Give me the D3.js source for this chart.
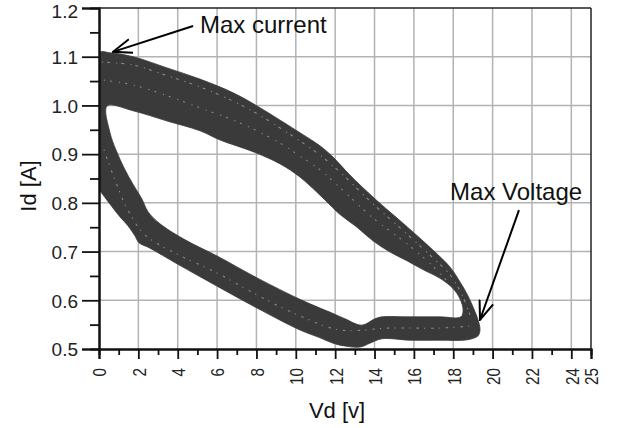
<!DOCTYPE html>
<html><head><meta charset="utf-8">
<script src="https://cdn.jsdelivr.net/npm/d3@7"></script>
<style>
html,body{margin:0;padding:0;background:#fff;}
svg{display:block;font-family:"Liberation Sans",Arial,sans-serif;}
</style></head>
<body>
<svg id="c" width="618" height="428"></svg>
<script>
// ---- data ----
// outer boundary of the hysteresis band (Vd [V], Id [A])
const outerVd = [0.00,0.56,1.73,3.46,5.13,6.81,8.03,9.35,10.21,11.23,11.89,12.75,13.92,14.79,15.65,16.97,17.84,18.34,18.75,19.05,19.26,19.36,19.26,18.95,18.50,17.33,15.80,14.38,13.77,13.26,12.50,11.89,11.23,10.21,8.03,6.00,3.96,2.59,2.03,1.83,1.47,1.07,0.66,0.25,0.00];
const outerId = [1.108,1.108,1.100,1.077,1.054,1.026,0.999,0.966,0.944,0.917,0.894,0.857,0.812,0.781,0.751,0.703,0.668,0.638,0.609,0.582,0.560,0.539,0.527,0.521,0.518,0.518,0.518,0.521,0.512,0.504,0.506,0.512,0.523,0.539,0.584,0.629,0.675,0.707,0.718,0.732,0.753,0.771,0.792,0.814,0.831];
// inner boundary (hole of the loop)
const innerVd = [0.41,1.73,3.46,5.13,6.15,7.83,9.20,10.21,11.48,12.25,13.11,13.92,14.79,15.65,16.46,17.33,17.99,18.34,18.50,18.39,17.33,15.80,14.38,14.02,13.36,12.50,11.89,11.23,10.21,8.03,6.00,4.47,3.10,2.49,2.18,1.73,1.27,0.86,0.56];
const innerId = [0.999,0.989,0.968,0.948,0.929,0.905,0.880,0.853,0.806,0.776,0.750,0.722,0.699,0.681,0.663,0.645,0.624,0.603,0.580,0.566,0.566,0.566,0.566,0.562,0.549,0.562,0.573,0.584,0.602,0.646,0.691,0.722,0.757,0.782,0.808,0.838,0.872,0.909,0.944];
// gaps between individual cycles visible inside the band (light speckle streaks)
const streakAVd = [0.15,1.73,3.46,5.13,6.81,8.03,9.35,10.21,11.23,12.25,13.92,15.65,16.97,17.84,18.45,18.85];
const streakAId = [1.089,1.083,1.061,1.038,1.009,0.983,0.950,0.927,0.898,0.863,0.798,0.736,0.687,0.652,0.611,0.570];
const streakBVd = [0.25,1.73,3.46,5.13,6.81,8.03,9.35,10.21,11.23,12.25,13.92,15.65,16.97,17.84];
const streakBId = [1.052,1.042,1.020,0.995,0.970,0.948,0.919,0.896,0.868,0.831,0.769,0.716,0.670,0.633];
const streakCVd = [0.25,0.81,1.47,2.34,3.96,6.00,8.03,10.21,12.25,14.79,17.33,18.85];
const streakCId = [0.909,0.847,0.785,0.734,0.695,0.656,0.611,0.568,0.539,0.543,0.543,0.547];

const xMajor = [0,2,4,6,8,10,12,14,16,18,20,22,24,25];
const xMinor = [1,3,5,7,9,11,13,15,17,19,21,23];
const xGrid  = [2,4,6,8,10,12,14,16,18,20,22,24];
const yMajor = [0.5,0.6,0.7,0.8,0.9,1.0,1.1,1.2];
const yMinor = [0.55,0.65,0.75,0.85,0.95,1.05,1.15];
const yGrid  = [0.6,0.7,0.8,0.9,1.0,1.1];

const annotations = [
  {text:"Max current", tx:5.13, ty:1.149, from:[4.78,1.163], to:[0.71,1.110]},
  {text:"Max Voltage", tx:17.84, ty:0.806, from:[21.34,0.785], to:[19.36,0.560]}
];

// ---- drawing ----
const svg = d3.select("#c");
const L=99, R=591, T=8, B=349;
const x = d3.scaleLinear().domain([0,25]).range([L,R]);
const y = d3.scaleLinear().domain([0.5,1.2]).range([B,T]);

const defs = svg.append("defs");
defs.append("clipPath").attr("id","plot")
  .append("rect").attr("x",L).attr("y",T).attr("width",R-L).attr("height",B-T);

// grid
const grid = svg.append("g").attr("class","grid");
grid.selectAll("line.gx").data(xGrid).enter().append("line").attr("class","gx")
  .attr("x1",d=>x(d)).attr("x2",d=>x(d)).attr("y1",T).attr("y2",B)
  .style("stroke","#b3b3b3").style("stroke-width","1.5px");
grid.selectAll("line.gy").data(yGrid).enter().append("line").attr("class","gy")
  .attr("y1",d=>y(d)).attr("y2",d=>y(d)).attr("x1",L).attr("x2",R)
  .style("stroke","#b3b3b3").style("stroke-width","1.5px");

// band
const outer = outerVd.map((v,i)=>[v,outerId[i]]);
const inner = innerVd.map((v,i)=>[v,innerId[i]]);
const bandLine = d3.line().x(d=>x(d[0])).y(d=>y(d[1])).curve(d3.curveCatmullRomClosed.alpha(0.5));
const plotG = svg.append("g").attr("clip-path","url(#plot)");
plotG.append("path")
  .attr("d", bandLine(outer)+bandLine(inner))
  .attr("fill","#3a3a3a").attr("fill-rule","evenodd")
  .attr("stroke","#3a3a3a").attr("stroke-width",0.8);

// streaks (gaps between cycles)
const openLine = d3.line().x(d=>x(d[0])).y(d=>y(d[1])).curve(d3.curveCatmullRom.alpha(0.5));
[[streakAVd,streakAId,"1.2,4,3,6"],[streakBVd,streakBId,"1.2,5,2,7"],[streakCVd,streakCId,"1.2,6,2.5,5"]].forEach(([vs,is,dash])=>{
  plotG.append("path").attr("d",openLine(vs.map((v,k)=>[v,is[k]])))
    .attr("fill","none").attr("stroke","#fff").attr("stroke-opacity",0.4)
    .attr("stroke-width",1.1).attr("stroke-dasharray",dash);
});

// frame
svg.append("line").attr("x1",L).attr("x2",R).attr("y1",T).attr("y2",T).attr("stroke","#222").attr("stroke-width",1.5);
svg.append("line").attr("x1",R).attr("x2",R).attr("y1",T).attr("y2",B).attr("stroke","#222").attr("stroke-width",1.5);

// axes
const yAx = svg.append("g").attr("transform",`translate(${L},0)`)
  .call(d3.axisLeft(y).tickValues(yMajor).tickSize(17).tickPadding(4).tickFormat(d3.format(".1f")));
const yAxMin = svg.append("g").attr("transform",`translate(${L},0)`)
  .call(d3.axisLeft(y).tickValues(yMinor).tickSize(9).tickFormat(""));
const xAx = svg.append("g").attr("transform",`translate(0,${B})`)
  .call(d3.axisBottom(x).tickValues(xMajor).tickSize(10).tickFormat(d3.format("d")));
const xAxMin = svg.append("g").attr("transform",`translate(0,${B})`)
  .call(d3.axisBottom(x).tickValues(xMinor).tickSize(6).tickFormat(""));
[yAx,yAxMin,xAx,xAxMin].forEach(a=>{
  a.select(".domain").attr("stroke","#111").attr("stroke-width",2);
  a.selectAll(".tick line").attr("stroke","#111").attr("stroke-width",1.8);
});
yAx.selectAll("text").attr("font-size",19).attr("fill","#222")
  .attr("font-family","'Liberation Sans',Arial,sans-serif")
  .attr("dy",d=>d===1.2?"0.52em":"0.36em");
const sx = 0.8;
xAx.selectAll("text").attr("font-size",19).attr("fill","#222")
  .attr("font-family","'Liberation Sans',Arial,sans-serif")
  .attr("text-anchor","end").attr("y",0).attr("dy","0.36em")
  .attr("x",-19/sx).attr("transform",`rotate(-90) scale(${sx},1)`);

// axis titles
svg.append("text").attr("x",337).attr("y",418).attr("text-anchor","middle")
  .attr("font-size",22).attr("fill","#111").text("Vd [v]");
svg.append("text").attr("transform",`translate(36,186) rotate(-90)`).attr("text-anchor","middle")
  .attr("font-size",22).attr("fill","#111").text("Id [A]");

// annotations
defs.append("marker").attr("id","arr").attr("viewBox","0 0 20 16").attr("refX",19).attr("refY",8)
  .attr("markerWidth",20).attr("markerHeight",16).attr("markerUnits","userSpaceOnUse").attr("orient","auto")
  .append("path").attr("d","M0,0.8 L19,8 L0,15.2").attr("fill","none").attr("stroke","#000").attr("stroke-width",2);
annotations.forEach(a=>{
  svg.append("line").attr("x1",x(a.from[0])).attr("y1",y(a.from[1]))
    .attr("x2",x(a.to[0])).attr("y2",y(a.to[1]))
    .attr("stroke","#000").attr("stroke-width",2).attr("marker-end","url(#arr)");
  svg.append("text").attr("x",x(a.tx)).attr("y",y(a.ty)).attr("font-size",24).attr("fill","#111").text(a.text);
});
</script>
</body></html>
